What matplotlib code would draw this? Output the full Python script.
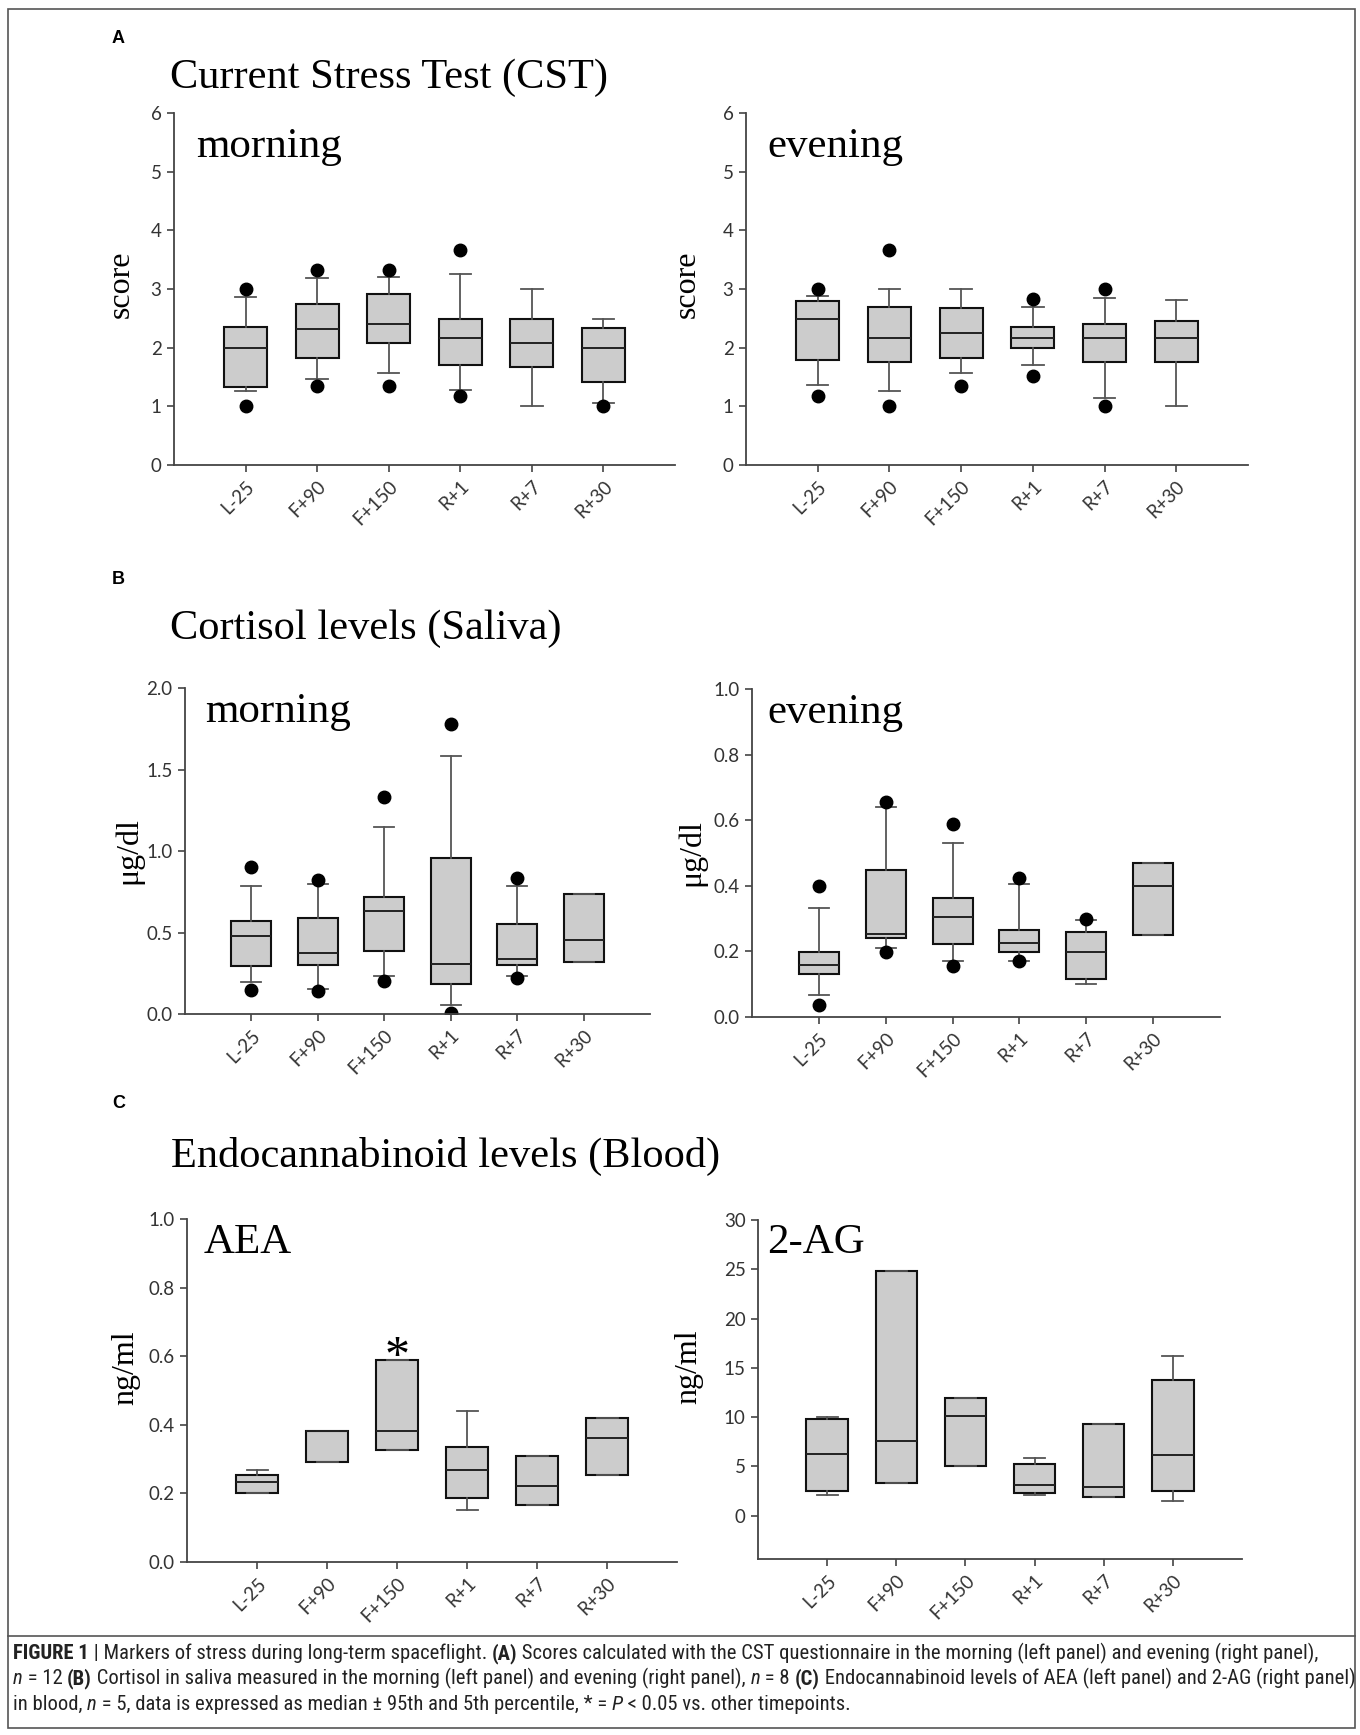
import matplotlib
matplotlib.use('Agg')
import matplotlib.pyplot as plt
from matplotlib.lines import Line2D
from matplotlib.patches import Rectangle

W, H = 1360, 1735

timepoints = ['L-25', 'F+90', 'F+150', 'R+1', 'R+7', 'R+30']

# each row: whisker low, q1, median, q3, whisker high
cst_morning = [
    [1.26, 1.33, 2.00, 2.36, 2.86],
    [1.47, 1.83, 2.32, 2.75, 3.19],
    [1.56, 2.08, 2.41, 2.91, 3.21],
    [1.27, 1.71, 2.16, 2.49, 3.26],
    [1.00, 1.67, 2.08, 2.49, 3.00],
    [1.05, 1.42, 2.00, 2.33, 2.49],
]
cst_morning_out = [[3.0, 1.0], [3.33, 1.34], [3.33, 1.34], [3.67, 1.18], [], [1.0]]

cst_evening = [
    [1.37, 1.79, 2.49, 2.79, 2.88],
    [1.26, 1.75, 2.16, 2.70, 3.00],
    [1.56, 1.83, 2.25, 2.67, 3.00],
    [1.70, 1.99, 2.16, 2.36, 2.69],
    [1.15, 1.75, 2.16, 2.40, 2.84],
    [1.00, 1.75, 2.16, 2.45, 2.82],
]
cst_evening_out = [[3.0, 1.18], [3.67, 1.0], [1.34], [2.83, 1.51], [3.0, 1.0], []]

cort_morning = [
    [0.194, 0.297, 0.480, 0.573, 0.783],
    [0.155, 0.303, 0.374, 0.589, 0.800],
    [0.231, 0.384, 0.634, 0.716, 1.150],
    [0.053, 0.186, 0.307, 0.957, 1.580],
    [0.235, 0.303, 0.337, 0.552, 0.787],
    [0.319, 0.319, 0.454, 0.738, 0.738],
]
cort_morning_out = [[0.90, 0.149], [0.824, 0.139], [1.33, 0.204], [1.78, 0.006], [0.834, 0.221], []]

cort_evening = [
    [0.068, 0.132, 0.160, 0.199, 0.331],
    [0.209, 0.242, 0.253, 0.448, 0.640],
    [0.171, 0.222, 0.304, 0.362, 0.532],
    [0.171, 0.199, 0.226, 0.265, 0.405],
    [0.100, 0.117, 0.199, 0.260, 0.295],
    [0.249, 0.249, 0.400, 0.470, 0.470],
]
cort_evening_out = [[0.40, 0.038], [0.657, 0.199], [0.589, 0.156], [0.423, 0.17], [0.30], []]

aea = [
    [0.201, 0.201, 0.232, 0.255, 0.269],
    [0.292, 0.292, 0.381, 0.381, 0.381],
    [0.326, 0.326, 0.381, 0.590, 0.590],
    [0.151, 0.187, 0.269, 0.336, 0.440],
    [0.165, 0.165, 0.221, 0.309, 0.309],
    [0.255, 0.255, 0.362, 0.420, 0.420],
]
ag2 = [
    [2.10, 2.54, 6.26, 9.77, 10.04],
    [3.28, 3.28, 7.61, 24.86, 24.86],
    [5.07, 5.07, 10.15, 11.97, 11.97],
    [2.10, 2.33, 3.11, 5.24, 5.88],
    [1.86, 1.86, 2.87, 9.27, 9.27],
    [1.49, 2.54, 6.15, 13.76, 16.23],
]
no_out = [[], [], [], [], [], []]

SERIF = 'Liberation Serif'
TICKFONT = 'Lato'


def make_stats(rows, outs):
    st = []
    for lab, r, o in zip(timepoints, rows, outs):
        st.append(dict(label=lab, whislo=r[0], q1=r[1], med=r[2], q3=r[3], whishi=r[4], fliers=o))
    return st


def px_axes(x0, y_top, x1, y_bot):
    # axes rectangle from pixel corners of the reference
    return fig.add_axes([x0 / W, 1 - y_bot / H, (x1 - x0) / W, (y_bot - y_top) / H])


def draw_panel(ax, rows, outs, ylim, yticks, fmt, ylabel, lab_x, lab_y=0.5):
    ax.bxp(make_stats(rows, outs), positions=range(1, 7), widths=0.6, capwidths=0.3,
           patch_artist=True, showfliers=True,
           boxprops=dict(facecolor='#cccccc', edgecolor='#111111', linewidth=1.5),
           medianprops=dict(color='#222222', linewidth=1.4),
           whiskerprops=dict(color='#555555', linewidth=1.3),
           capprops=dict(color='#555555', linewidth=1.3),
           flierprops=dict(marker='o', markerfacecolor='black', markeredgecolor='black', markersize=9))
    ax.set_xlim(0, 7)
    ax.set_ylim(*ylim)
    ax.set_yticks(yticks)
    ax.set_yticklabels([fmt.format(v) for v in yticks], fontfamily=TICKFONT, fontsize=13.5, color='#333333')
    ax.set_xticks(range(1, 7))
    ax.set_xticklabels(timepoints, rotation=45, ha='right', rotation_mode='anchor',
                       fontfamily=TICKFONT, fontsize=13.5, color='#333333')
    for s in ['top', 'right']:
        ax.spines[s].set_visible(False)
    for s in ['left', 'bottom']:
        ax.spines[s].set_color('#444444')
        ax.spines[s].set_linewidth(1.3)
    ax.tick_params(axis='both', direction='out', length=5, width=1.2, color='#444444', pad=4)
    ax.set_facecolor('none')
    ax.set_ylabel(ylabel, fontfamily=SERIF, fontsize=23)
    ax.yaxis.set_label_coords(lab_x, lab_y)


fig = plt.figure(figsize=(W / 100, H / 100), dpi=100)

# panel A
axA1 = px_axes(174, 113, 675, 465)
draw_panel(axA1, cst_morning, cst_morning_out, (0, 6), [0, 1, 2, 3, 4, 5, 6], '{:.0f}', 'score', -0.076, 0.514)
axA2 = px_axes(746, 113, 1248, 465)
draw_panel(axA2, cst_evening, cst_evening_out, (0, 6), [0, 1, 2, 3, 4, 5, 6], '{:.0f}', 'score', -0.089, 0.514)

# panel B
axB1 = px_axes(185, 688, 650, 1014)
draw_panel(axB1, cort_morning, cort_morning_out, (0, 2), [0, 0.5, 1.0, 1.5, 2.0], '{:.1f}', 'μg/dl', -0.090)
axB2 = px_axes(752, 689, 1220, 1017)
draw_panel(axB2, cort_evening, cort_evening_out, (0, 1), [0, 0.2, 0.4, 0.6, 0.8, 1.0], '{:.1f}', 'μg/dl', -0.098)

# panel C
axC1 = px_axes(187, 1219, 677, 1562)
draw_panel(axC1, aea, no_out, (0, 1), [0, 0.2, 0.4, 0.6, 0.8, 1.0], '{:.1f}', 'ng/ml', -0.095, 0.567)
axC2 = px_axes(758, 1220, 1242, 1559)
draw_panel(axC2, ag2, no_out, (-4.4, 30), [0, 5, 10, 15, 20, 25, 30], '{:.0f}', 'ng/ml', -0.114, 0.567)
axC1.text(3, 0.56, '*', ha='center', va='baseline', fontfamily=SERIF, fontsize=36)

# inner panel names (pixel positions of the baselines)
names = [('morning', 196, 157), ('evening', 767, 157), ('morning', 205, 722),
         ('evening', 767, 723), ('AEA', 204, 1253), ('2-AG', 767, 1253)]
for txt, x, y in names:
    fig.text(x / W, 1 - y / H, txt, fontfamily=SERIF, fontsize=31, va='baseline', ha='left')

# section titles and letters
titles = [('Current Stress Test (CST)', 170, 88), ('Cortisol levels (Saliva)', 170, 639),
          ('Endocannabinoid levels (Blood)', 171, 1167)]
for txt, x, y in titles:
    fig.text(x / W, 1 - y / H, txt, fontfamily=SERIF, fontsize=30.5, va='baseline', ha='left')
for txt, y in [('A', 43), ('B', 584), ('C', 1108)]:
    fig.text(112 / W, 1 - y / H, txt, fontfamily='Liberation Sans', fontweight='bold', fontsize=13, va='baseline', ha='left')

# frame and separator
fig.add_artist(Rectangle((8 / W, 1 - 1728 / H), (1355 - 8) / W, (1728 - 9) / H, transform=fig.transFigure,
                         fill=False, edgecolor='#555555', linewidth=1.2))
fig.add_artist(Line2D([8 / W, 1355 / W], [1 - 1636 / H, 1 - 1636 / H], transform=fig.transFigure,
                      color='#555555', linewidth=1.2))

# caption
CAPFONT = ['Roboto Condensed', 'Roboto', 'DejaVu Sans']
cap_lines = [
    [('FIGURE 1', 'bold', 'normal'), (' | Markers of stress during long-term spaceflight. ', 'normal', 'normal'),
     ('(A)', 'bold', 'normal'),
     (' Scores calculated with the CST questionnaire in the morning (left panel) and evening (right panel),', 'normal', 'normal')],
    [('n', 'normal', 'italic'), (' = 12 ', 'normal', 'normal'), ('(B)', 'bold', 'normal'),
     (' Cortisol in saliva measured in the morning (left panel) and evening (right panel), ', 'normal', 'normal'),
     ('n', 'normal', 'italic'), (' = 8 ', 'normal', 'normal'), ('(C)', 'bold', 'normal'),
     (' Endocannabinoid levels of AEA (left panel) and 2-AG (right panel)', 'normal', 'normal')],
    [('in blood, ', 'normal', 'normal'), ('n', 'normal', 'italic'),
     (' = 5, data is expressed as median ± 95th and 5th percentile, * = ', 'normal', 'normal'),
     ('P', 'normal', 'italic'), (' < 0.05 vs. other timepoints.', 'normal', 'normal')],
]
renderer = fig.canvas.get_renderer()


def caption_line(parts, x, y, size, keep=True):
    xs = x
    objs = []
    for txt, w, st in parts:
        t = fig.text(xs / W, 1 - y / H, txt, fontfamily=CAPFONT, fontweight=w, fontstyle=st,
                     fontsize=size, color='#222222', va='baseline', ha='left')
        xs += t.get_window_extent(renderer).width
        objs.append(t)
    if not keep:
        for t in objs:
            t.remove()
    return xs - x


# fit the caption size so the two long lines stay inside the frame
w1 = caption_line(cap_lines[0], 13, 1659, 12, keep=False)
w2 = caption_line(cap_lines[1], 13, 1684, 12, keep=False)
cap_size = 12 * min(1333 / w1, 1336 / w2)
for parts, y in zip(cap_lines, [1659, 1684, 1710]):
    caption_line(parts, 13, y, cap_size)

fig.savefig('out.png', dpi=100)
